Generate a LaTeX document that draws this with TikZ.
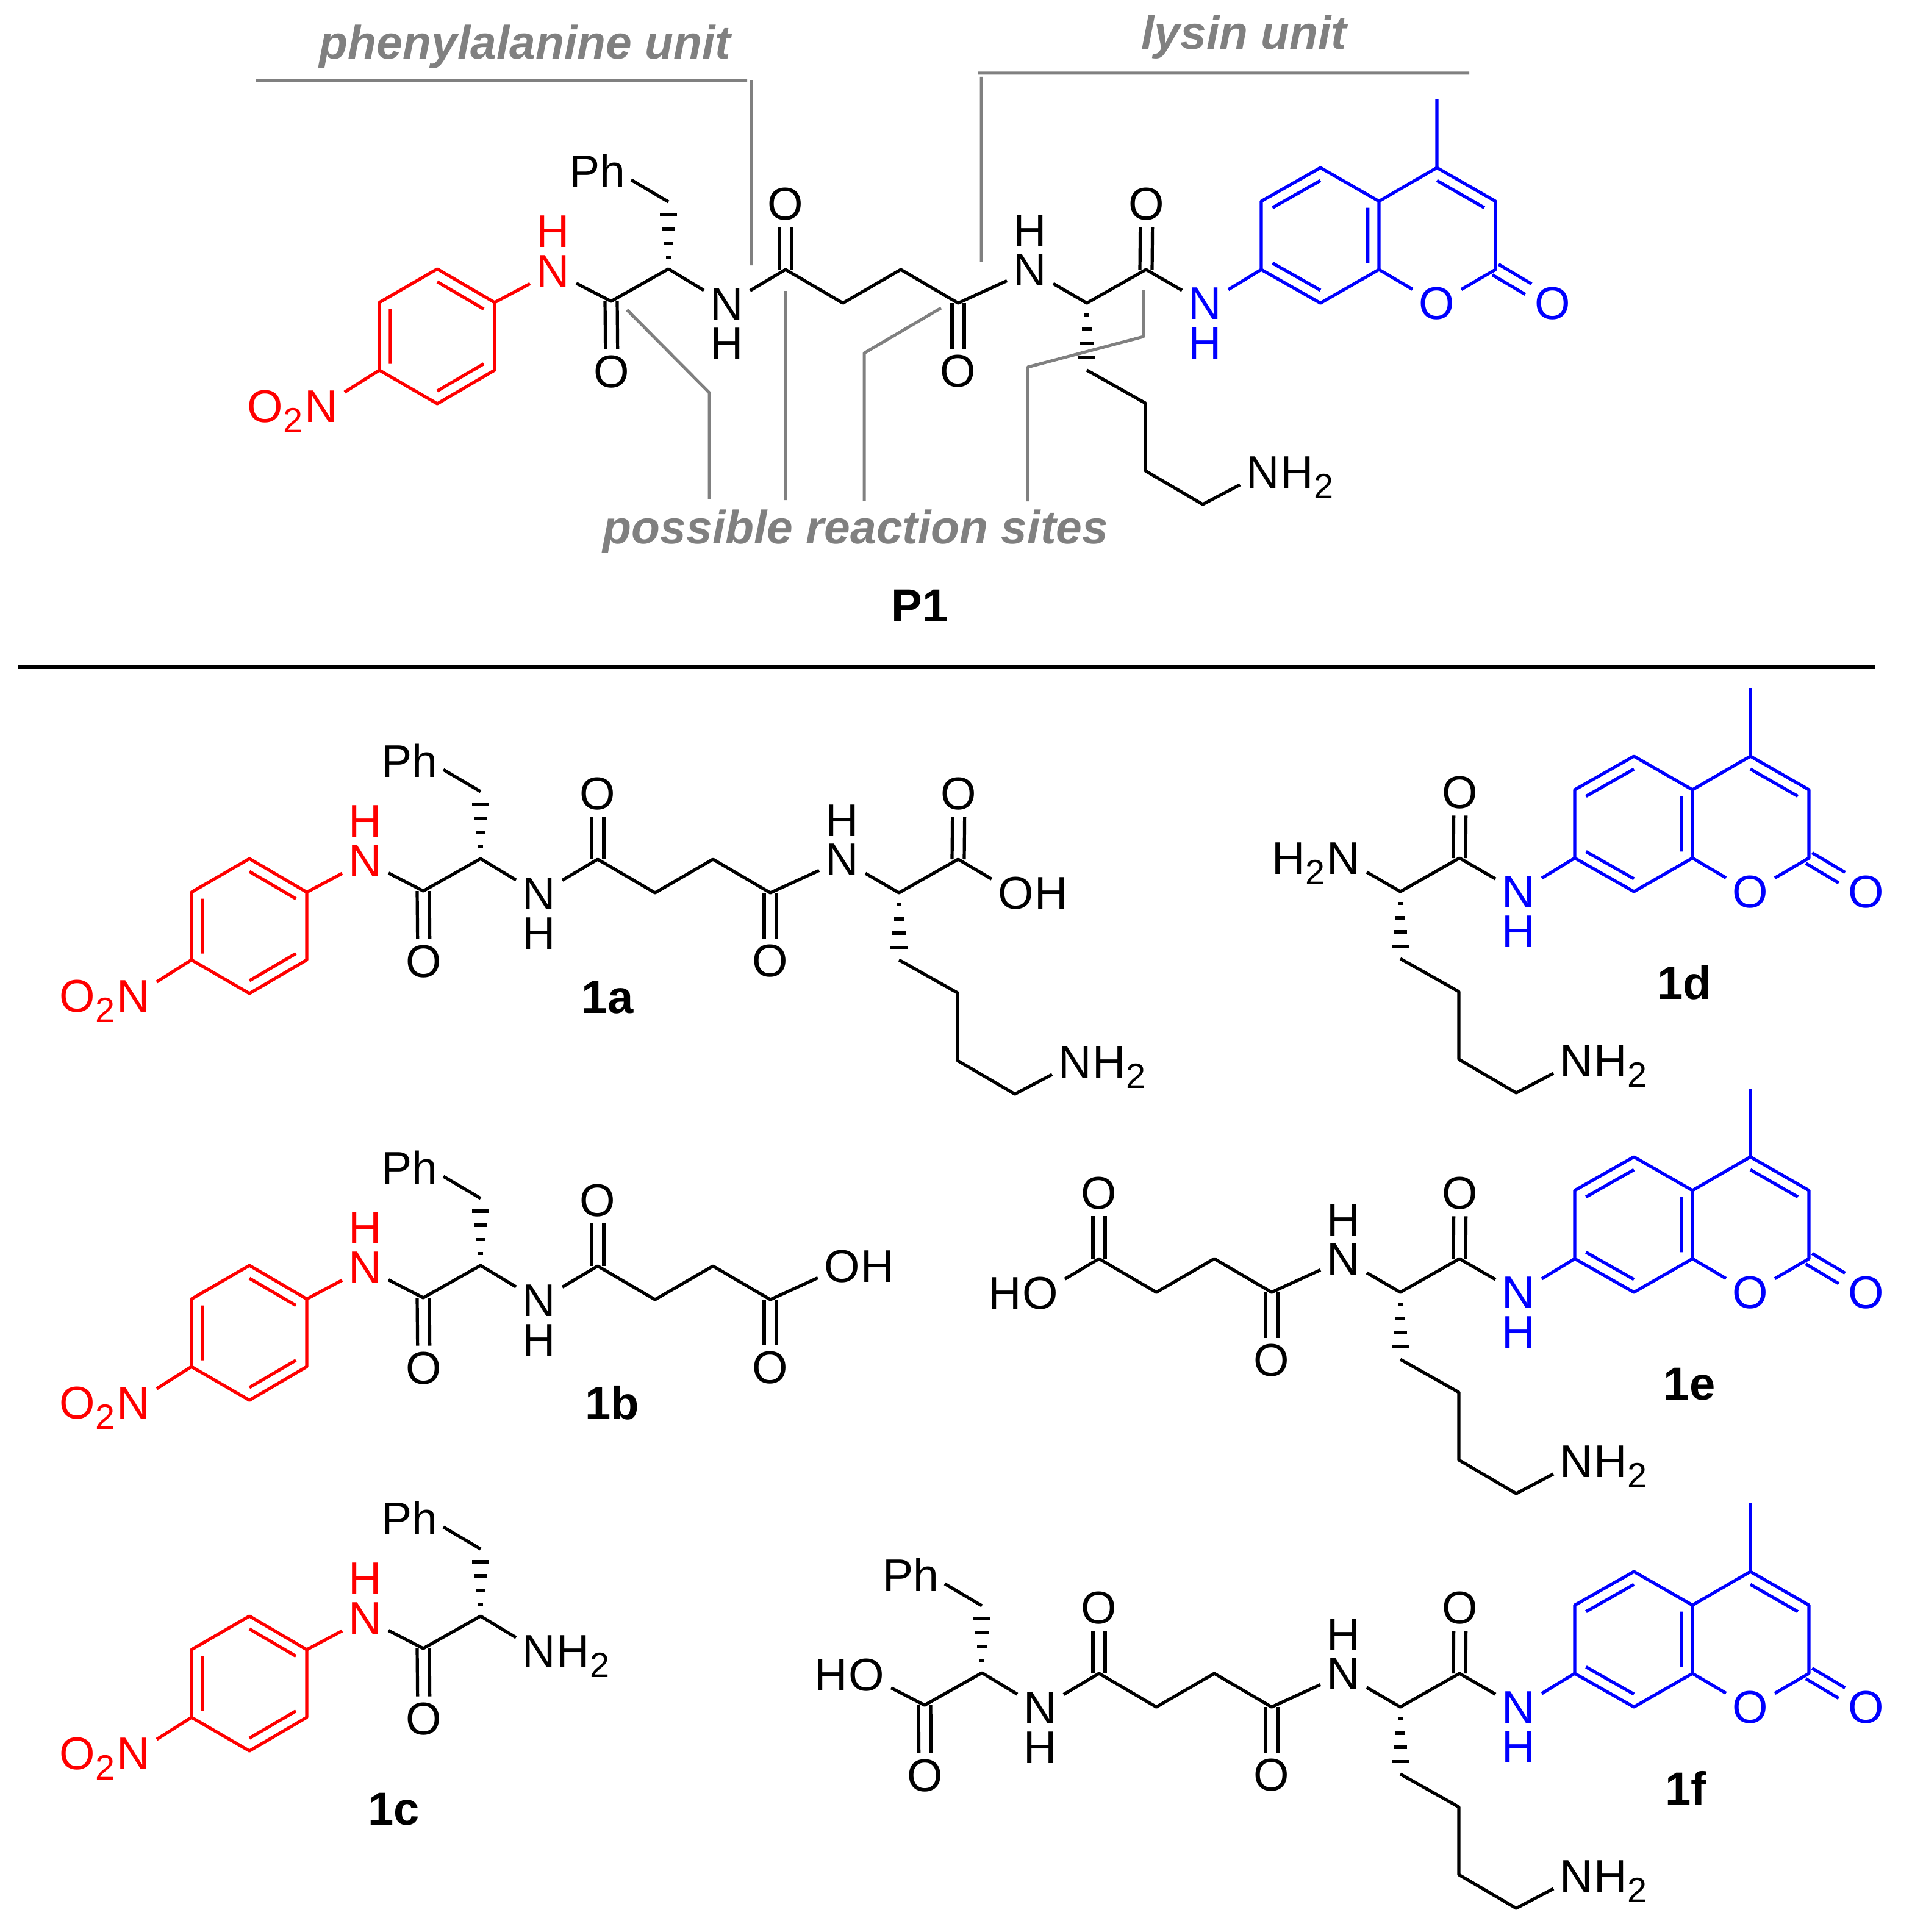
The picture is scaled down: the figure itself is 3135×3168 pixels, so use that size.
\documentclass[tikz,border=0pt]{standalone}
\usepackage{fontspec}
\setmainfont{Liberation Sans}
\usetikzlibrary{calc}

\tikzset{
    bond/.style={line width=1.3pt,line join=round},
    atom/.style={font=\fontsize{18.8}{21}\selectfont,inner xsep=2.5pt,inner ysep=2.5pt},
    sidetxt/.style={font=\fontsize{18.8}{21}\selectfont,inner sep=0pt},
    dblL/.style={bond,transform canvas={xshift=-2.5pt}},
    dblR/.style={bond,transform canvas={xshift=2.5pt}},
    guide/.style={line width=1.25pt,color=black!50,line join=round},
    unitlabel/.style={font=\fontsize{19.2}{22}\selectfont\bfseries\itshape,color=black!50,anchor=base,inner sep=0pt},
    cpdlabel/.style={font=\fontsize{19}{22}\selectfont\bfseries,anchor=base,inner sep=0pt}
}

\newcommand{\subtwo}{\raisebox{-4.25pt}{\fontsize{14.4}{15}\selectfont 2}}
\newcommand{\innerbond}[3]{($(#1)!.19!(#3)$)--($(#2)!.19!(#3)$)}
\newcommand{\hashbond}[2]{
    \foreach \f/\w in {.18/4,.39/8,.6/11,.81/14}{
    \draw[bond] ($(#1)!\f!(#2)+(-\w,0)$)--($(#1)!\f!(#2)+(\w,0)$);}
}
\newcommand{\hydroxyR}[2]{
    \node[atom] (#1) at (#2) {O};
    \node[sidetxt,anchor=base west,xshift=-2.5pt] (#1h) at (#1.base east) {H};
}
\newcommand{\hydroxyL}[2]{
    \node[atom] (#1) at (#2) {O};
    \node[sidetxt,anchor=base east,xshift=2.5pt] (#1h) at (#1.base west) {H};
}

% red p-nitroanilide end
\newcommand{\nitroend}{
    \coordinate (r1) at (717,441);
    \coordinate (r2) at (811,496);
    \coordinate (r3) at (811,607);
    \coordinate (r4) at (717,662);
    \coordinate (r5) at (622,607);
    \coordinate (r6) at (622,496);
    \coordinate (rc) at (717,552);
    \node[atom,red] (n1) at (907,445) {N};
    \node[atom,red] (h1) at (907,380) {H};
    \node[atom,red] (no2) at (527,667) {N};
    \node[sidetxt,red,anchor=base east,xshift=2pt] (o2) at (no2.base west) {O\subtwo};
    \draw[bond,red] (r1)--(r2)--(r3)--(r4)--(r5)--(r6)--cycle
    \innerbond{r1}{r2}{rc} \innerbond{r3}{r4}{rc} \innerbond{r5}{r6}{rc}
    (r2)--(n1) (r5)--(no2);
}
\newcommand{\nhleft}{
    \node[atom] (n2) at (1192,499) {N};
    \node[atom] (h2) at (1192,564) {H};
}
\newcommand{\nhright}{
    \node[atom] (n3) at (1689,443) {N};
    \node[atom] (h3) at (1689,379) {H};
}
\newcommand{\pheunit}{
    \coordinate (c1) at (1002,494);
    \coordinate (ca) at (1096,441);
    \coordinate (cb) at (1096,331);
    \coordinate (phend) at (1035,295);
    \node[atom] (o1) at (1003,610) {O};
    \node[atom] (ph) at (979,280) {Ph};
    \draw[bond] (n1)--(c1)--(ca)--(n2) (phend)--(cb);
    \draw[dblL] (c1)--(o1);
    \draw[dblR] (c1)--(o1);
    \hashbond{ca}{cb}
}
\newcommand{\succinyl}{
    \coordinate (c2) at (1288,442);
    \coordinate (c21) at (1382,497);
    \coordinate (c22) at (1477,442);
    \coordinate (c3) at (1571,497);
    \node[atom] (o2c) at (1288,335) {O};
    \node[atom] (o3) at (1571,609) {O};
    \draw[bond] (n2)--(c2)--(c21)--(c22)--(c3)--(n3);
    \draw[dblL] (c2)--(o2c);
    \draw[dblR] (c2)--(o2c);
    \draw[dblL] (c3)--(o3);
    \draw[dblR] (c3)--(o3);
}
\newcommand{\lysunit}{
    \coordinate (ca2) at (1782,497);
    \coordinate (c4) at (1879,442);
    \coordinate (l1) at (1782,607);
    \coordinate (l2) at (1878,661);
    \coordinate (l3) at (1878,772);
    \coordinate (l4) at (1972,827);
    \node[atom] (o4) at (1880,335) {O};
    \node[atom] (nl) at (2071,775) {N};
    \node[sidetxt,anchor=base west,xshift=-2.5pt] (h2l) at (nl.base east) {H\subtwo};
    \draw[bond] (n3)--(ca2)--(c4)--(n4) (l1)--(l2)--(l3)--(l4)--(nl);
    \draw[dblL] (c4)--(o4);
    \draw[dblR] (c4)--(o4);
    \hashbond{ca2}{l1}
}
% blue coumarin end
\newcommand{\nfour}{
    \node[atom,blue] (n4) at (1976,498) {N};
    \node[atom,blue] (h4) at (1976,563) {H};
}
\newcommand{\coumarin}{
    \coordinate (b1) at (2068,442);
    \coordinate (b2) at (2068,330);
    \coordinate (b3) at (2165,275);
    \coordinate (b4) at (2261,330);
    \coordinate (b5) at (2261,442);
    \coordinate (b6) at (2165,497);
    \coordinate (bc) at (2165,386);
    \coordinate (p1) at (2356,275);
    \coordinate (p2) at (2452,330);
    \coordinate (p3) at (2452,442);
    \coordinate (pc) at (2356,386);
    \coordinate (me) at (2356,163);
    \node[atom,blue] (o5) at (2356,498) {O};
    \node[atom,blue] (o6) at (2546,498) {O};
    \draw[bond,blue] (n4)--(b1) (b1)--(b2)--(b3)--(b4)--(b5)--(b6)--cycle
    (b4)--(p1)--(p2)--(p3)--(o5)--(b5) (p1)--(me)
    \innerbond{b2}{b3}{bc} \innerbond{b4}{b5}{bc} \innerbond{b6}{b1}{bc}
    \innerbond{p1}{p2}{pc};
    \draw[bond,blue,transform canvas={xshift=1.3pt,yshift=2.15pt}] (p3)--(o6);
    \draw[bond,blue,transform canvas={xshift=-1.3pt,yshift=-2.15pt}] (p3)--(o6);
}

\begin{document}
\begin{tikzpicture}[x=.25pt,y=-.25pt]
    \useasboundingbox (0,0) rectangle (3135,3168);

    % guide lines of P1
    \coordinate (g1) at (419,132);
    \coordinate (g2) at (1225,132);
    \coordinate (g3) at (1232,132);
    \coordinate (g4) at (1232,435);
    \coordinate (g5) at (1603,120);
    \coordinate (g6) at (2409,120);
    \coordinate (g7) at (1609,126);
    \coordinate (g8) at (1609,429);
    \coordinate (s11) at (1028,508);
    \coordinate (s12) at (1163,644);
    \coordinate (s13) at (1163,818);
    \coordinate (s21) at (1288,477);
    \coordinate (s22) at (1288,820);
    \coordinate (s31) at (1543,505);
    \coordinate (s32) at (1417,579);
    \coordinate (s33) at (1417,821);
    \coordinate (s41) at (1875,475);
    \coordinate (s42) at (1875,552);
    \coordinate (s43) at (1685,602);
    \coordinate (s44) at (1685,822);
    \draw[guide] (g1)--(g2) (g3)--(g4) (g5)--(g6) (g7)--(g8)
    (s11)--(s12)--(s13) (s21)--(s22) (s31)--(s32)--(s33) (s41)--(s42)--(s43)--(s44);
    \node[unitlabel] (phelabel) at (861,97) {phenylalanine unit};
    \node[unitlabel] (lyslabel) at (2040,81) {lysin unit};
    \node[unitlabel] (sitelabel) at (1403,891) {possible reaction sites};

    \begin{scope}[name prefix=p-]
    \nitroend \nhleft \pheunit \nhright \nfour \succinyl \lysunit \coumarin
    \end{scope}
    \node[cpdlabel] (lblP) at (1508,1019) {P1};

    \coordinate (sepL) at (30,1094);
    \coordinate (sepR) at (3075,1094);
    \draw[line width=1.3pt] (sepL)--(sepR);

    \begin{scope}[shift={(-308,967)},name prefix=a-]
    \nitroend \nhleft \pheunit \nhright \hydroxyR{n4}{1974,498} \succinyl \lysunit
    \end{scope}
    \node[cpdlabel] (lbla) at (996,1661) {1a};

    \begin{scope}[shift={(-308,1634)},name prefix=b-]
    \nitroend \nhleft \pheunit \hydroxyR{n3}{1689,443} \succinyl
    \end{scope}
    \node[cpdlabel] (lblb) at (1004,2327) {1b};

    \begin{scope}[shift={(-308,2209)},name prefix=c-]
    \nitroend
    \node[atom] (n2) at (1192,499) {N};
    \node[sidetxt,anchor=base west,xshift=-2.5pt] (n2h) at (n2.base east) {H\subtwo};
    \pheunit
    \end{scope}
    \node[cpdlabel] (lblc) at (646,2992) {1c};

    \begin{scope}[shift={(514,965)},name prefix=d-]
    \node[atom] (n3) at (1689,443) {N};
    \node[sidetxt,anchor=base east,xshift=2pt] (n3h) at (n3.base west) {H\subtwo};
    \nfour \lysunit \coumarin
    \end{scope}
    \node[cpdlabel] (lbld) at (2762,1638) {1d};

    \begin{scope}[shift={(514,1622)},name prefix=e-]
    \hydroxyL{n2}{1192,499} \nhright \nfour \succinyl \lysunit \coumarin
    \end{scope}
    \node[cpdlabel] (lble) at (2770,2295) {1e};

    \begin{scope}[shift={(514,2302)},name prefix=f-]
    \hydroxyL{n1}{907,445} \nhleft \pheunit \nhright \nfour \succinyl \lysunit \coumarin
    \end{scope}
    \node[cpdlabel] (lblf) at (2764,2959) {1f};
\end{tikzpicture}
\end{document}
